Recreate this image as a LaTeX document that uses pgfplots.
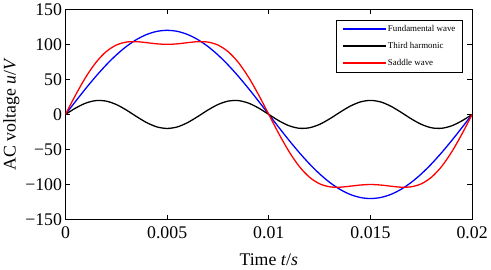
\documentclass[border=0pt]{standalone}
\usepackage{pgfplots}
\pgfplotsset{compat=1.18}
\usepackage{pgfplotstable}
\usepackage{fontspec}
\setmainfont{Liberation Serif}
\pgfplotstableread{
t f h s
0 0 0 0
0.0005 18.772 9.080 27.852
0.001 37.082 16.180 53.262
0.0015 54.479 19.754 74.233
0.002 70.534 19.021 89.555
0.0025 84.853 14.142 98.995
0.003 97.082 6.180 103.262
0.0035 106.921 -3.129 103.792
0.004 114.127 -11.756 102.371
0.0045 118.523 -17.820 100.703
0.005 120 -20 100
0.0055 118.523 -17.820 100.703
0.006 114.127 -11.756 102.371
0.0065 106.921 -3.129 103.792
0.007 97.082 6.180 103.262
0.0075 84.853 14.142 98.995
0.008 70.534 19.021 89.555
0.0085 54.479 19.754 74.233
0.009 37.082 16.180 53.262
0.0095 18.772 9.080 27.852
0.01 0 0 0
0.0105 -18.772 -9.080 -27.852
0.011 -37.082 -16.180 -53.262
0.0115 -54.479 -19.754 -74.233
0.012 -70.534 -19.021 -89.555
0.0125 -84.853 -14.142 -98.995
0.013 -97.082 -6.180 -103.262
0.0135 -106.921 3.129 -103.792
0.014 -114.127 11.756 -102.371
0.0145 -118.523 17.820 -100.703
0.015 -120 20 -100
0.0155 -118.523 17.820 -100.703
0.016 -114.127 11.756 -102.371
0.0165 -106.921 3.129 -103.792
0.017 -97.082 -6.180 -103.262
0.0175 -84.853 -14.142 -98.995
0.018 -70.534 -19.021 -89.555
0.0185 -54.479 -19.754 -74.233
0.019 -37.082 -16.180 -53.262
0.0195 -18.772 -9.080 -27.852
0.02 0 0 0
}\data
\begin{document}
\begin{tikzpicture}
\begin{axis}[
  scale only axis,
  width=410bp, height=212bp,
  xmin=0, xmax=0.02, ymin=-150, ymax=150,
  scaled x ticks=false,
  xtick={0,0.005,0.01,0.015,0.02},
  xticklabels={0,0.005,0.01,0.015,0.02},
  ytick={-150,-100,-50,0,50,100,150},
  yticklabels={−150,−100,−50,0,50,100,150},
  tick align=inside,
  major tick length=5bp,
  axis line style={line width=1.1bp},
  every tick/.style={black, line width=0.9bp},
  ticklabel style={font=\fontsize{18}{20}\selectfont},
  xticklabel style={yshift=-4bp},
  xlabel={Time \textit{t}/\textit{s}},
  ylabel={AC voltage \textit{u}/\textit{V}},
  label style={font=\fontsize{18}{20}\selectfont},
  xlabel style={yshift=-8bp},
  ylabel style={yshift=-1bp},
  legend cell align=left,
  legend style={at={(rel axis cs:0.977,0.95)}, anchor=north east,
    font=\fontsize{9}{10}\selectfont, draw=black, line width=0.9bp,
    inner xsep=5bp, inner ysep=3bp, row sep=5.5bp,
    nodes={inner sep=2bp}},
  legend image code/.code={\draw[mark repeat=2,mark phase=2,#1, line width=1.5bp] plot coordinates {(0bp,0bp) (21bp,0bp) (43bp,0bp)};},
]
\addplot[color=blue, line width=1.3bp, smooth] table[x=t, y=f] {\data};
\addlegendentry{Fundamental wave}
\addplot[color=black, line width=1.3bp, smooth] table[x=t, y=h] {\data};
\addlegendentry{Third harmonic}
\addplot[color=red, line width=1.3bp, smooth] table[x=t, y=s] {\data};
\addlegendentry{Saddle wave}
\end{axis}
\end{tikzpicture}
\end{document}
